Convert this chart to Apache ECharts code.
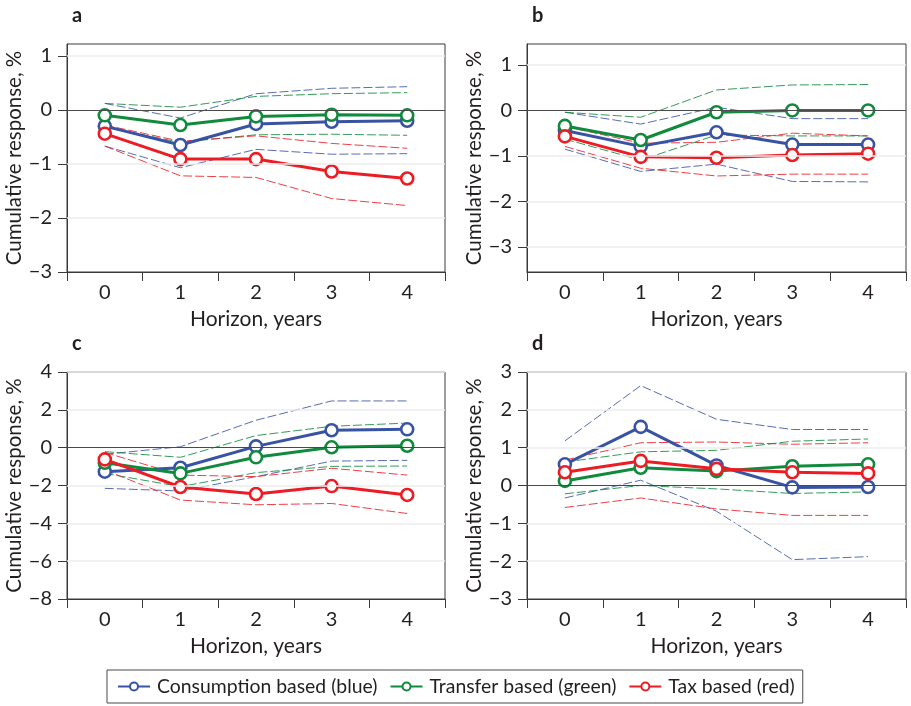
<!DOCTYPE html>
<html>
<head>
<meta charset="utf-8">
<script src="https://cdn.jsdelivr.net/npm/echarts@6/dist/echarts.min.js"></script>
<style>
  html, body { margin: 0; padding: 0; background: #fff; }
  #chart { width: 911px; height: 706px; }
</style>
</head>
<body>
<div id="chart"></div>
<script>
// Horizons (years) on the x axis
const horizons = ['0', '1', '2', '3', '4'];

// Series names
const seriesNames = ['Consumption based (blue)', 'Transfer based (green)', 'Tax based (red)'];

// Panel a: point estimates and confidence bands
const aConsumption = [-0.30, -0.65, -0.26, -0.22, -0.20];
const aConsumptionHi = [0.12, -0.15, 0.30, 0.40, 0.43];
const aConsumptionLo = [-0.67, -1.07, -0.73, -0.82, -0.81];
const aTransfer = [-0.10, -0.28, -0.12, -0.09, -0.10];
const aTransferHi = [0.12, 0.05, 0.25, 0.30, 0.32];
const aTransferLo = [-0.32, -0.60, -0.46, -0.45, -0.47];
const aTax = [-0.44, -0.91, -0.91, -1.14, -1.27];
const aTaxHi = [-0.28, -0.58, -0.48, -0.62, -0.71];
const aTaxLo = [-0.67, -1.22, -1.25, -1.64, -1.77];

// Panel b
const bConsumption = [-0.44, -0.79, -0.48, -0.75, -0.75];
const bConsumptionHi = [-0.04, -0.30, 0.07, -0.18, -0.18];
const bConsumptionLo = [-0.85, -1.34, -1.18, -1.56, -1.57];
const bTransfer = [-0.34, -0.65, -0.04, 0.00, 0.00];
const bTransferHi = [-0.04, -0.15, 0.45, 0.56, 0.57];
const bTransferLo = [-0.63, -1.09, -0.54, -0.56, -0.56];
const bTax = [-0.57, -1.02, -1.04, -0.98, -0.95];
const bTaxHi = [-0.35, -0.72, -0.70, -0.50, -0.56];
const bTaxLo = [-0.79, -1.27, -1.44, -1.40, -1.40];

// Panel c
const cConsumption = [-1.27, -1.06, 0.07, 0.92, 0.97];
const cConsumptionHi = [-0.35, 0.05, 1.45, 2.47, 2.47];
const cConsumptionLo = [-2.15, -2.29, -1.53, -0.71, -0.67];
const cTransfer = [-0.80, -1.36, -0.51, 0.02, 0.10];
const cTransferHi = [-0.21, -0.51, 0.64, 1.13, 1.30];
const cTransferLo = [-1.36, -2.06, -1.32, -0.99, -0.97];
const cTax = [-0.62, -2.08, -2.45, -2.03, -2.50];
const cTaxHi = [-0.25, -1.45, -1.53, -1.09, -1.45];
const cTaxLo = [-1.18, -2.77, -3.02, -2.95, -3.48];

// Panel d
const dConsumption = [0.56, 1.55, 0.53, -0.05, -0.04];
const dConsumptionHi = [1.18, 2.64, 1.75, 1.48, 1.48];
const dConsumptionLo = [-0.33, 0.14, -0.68, -1.96, -1.88];
const dTransfer = [0.12, 0.47, 0.38, 0.51, 0.56];
const dTransferHi = [0.62, 0.89, 0.93, 1.17, 1.23];
const dTransferLo = [-0.22, 0.00, -0.09, -0.21, -0.17];
const dTax = [0.35, 0.65, 0.44, 0.35, 0.32];
const dTaxHi = [0.67, 1.13, 1.15, 1.09, 1.13];
const dTaxLo = [-0.58, -0.33, -0.62, -0.79, -0.79];

// Y axis ticks per panel
const aTicks = [-3, -2, -1, 0, 1];
const bTicks = [-3, -2, -1, 0, 1];
const cTicks = [-8, -6, -4, -2, 0, 2, 4];
const dTicks = [-3, -2, -1, 0, 1, 2, 3];

const panelLetters = ['a', 'b', 'c', 'd'];

const COLORS = ['#3953a4', '#118a3d', '#ed1c24'];
const FONT = 'Lato';

const panels = [
  { ticks: aTicks, min: -3, max: 1.22,
    lines: [[aConsumption, aConsumptionHi, aConsumptionLo], [aTransfer, aTransferHi, aTransferLo], [aTax, aTaxHi, aTaxLo]] },
  { ticks: bTicks, min: -3.55, max: 1.46,
    lines: [[bConsumption, bConsumptionHi, bConsumptionLo], [bTransfer, bTransferHi, bTransferLo], [bTax, bTaxHi, bTaxLo]] },
  { ticks: cTicks, min: -8, max: 4,
    lines: [[cConsumption, cConsumptionHi, cConsumptionLo], [cTransfer, cTransferHi, cTransferLo], [cTax, cTaxHi, cTaxLo]] },
  { ticks: dTicks, min: -3, max: 3,
    lines: [[dConsumption, dConsumptionHi, dConsumptionLo], [dTransfer, dTransferHi, dTransferLo], [dTax, dTaxHi, dTaxLo]] }
];

const gridBoxes = [
  { left: 67, top: 44, width: 378, height: 228 },
  { left: 527, top: 44, width: 379, height: 228 },
  { left: 67, top: 372, width: 378, height: 227 },
  { left: 527, top: 372, width: 379, height: 227 }
];

const minus = v => String(v).replace('-', '\u2212');

const grids = [], xAxes = [], yAxes = [], series = [], titles = [];

panels.forEach((p, i) => {
  const g = gridBoxes[i];
  grids.push(Object.assign({ show: true, borderColor: '#3a3a3a', borderWidth: 1, backgroundColor: 'transparent' }, g));

  titles.push({
    text: panelLetters[i],
    left: g.left,
    top: g.top - 43,
    textStyle: { fontFamily: FONT, fontWeight: 'bold', fontSize: 20, color: '#231f20' }
  });

  xAxes.push({
    type: 'category',
    gridIndex: i,
    data: horizons,
    boundaryGap: true,
    name: 'Horizon, years',
    nameLocation: 'middle',
    nameGap: 37,
    nameTextStyle: { fontFamily: FONT, fontSize: 21, color: '#231f20' },
    axisLine: { onZero: false, lineStyle: { color: '#3a3a3a', width: 1 } },
    axisTick: { show: true, inside: false, length: 9, alignWithLabel: false, lineStyle: { color: '#3a3a3a' } },
    axisLabel: { fontFamily: FONT, fontSize: 20, color: '#231f20', margin: 11 },
    splitLine: { show: false }
  });

  yAxes.push({
    type: 'value',
    gridIndex: i,
    min: p.min,
    max: p.max,
    name: 'Cumulative response, %',
    nameLocation: 'middle',
    nameGap: 40,
    nameTextStyle: { fontFamily: FONT, fontSize: 20.5, color: '#231f20' },
    axisLine: { show: true, onZero: false, lineStyle: { color: '#3a3a3a', width: 1 } },
    axisTick: { show: true, length: 9, customValues: p.ticks, lineStyle: { color: '#3a3a3a' } },
    axisLabel: { fontFamily: FONT, fontSize: 20, color: '#231f20', margin: 15, customValues: p.ticks, formatter: minus },
    splitLine: { show: false }
  });

  // faint horizontal guides and the zero line
  series.push({
    type: 'line',
    xAxisIndex: i,
    yAxisIndex: i,
    data: [],
    silent: true,
    z: 1,
    markLine: {
      silent: true,
      symbol: ['none', 'none'],
      label: { show: false },
      animation: false,
      data: p.ticks.filter(t => t !== p.min).map(t => ({
        yAxis: t,
        lineStyle: t === 0
          ? { color: '#4a4a4a', width: 1.2, type: 'solid' }
          : { color: '#ececec', width: 1.5, type: 'solid' }
      }))
    }
  });

  p.lines.forEach((trio, k) => {
    const c = COLORS[k];
    // confidence bands
    [trio[1], trio[2]].forEach((band, b) => {
      series.push({
        type: 'line',
        name: seriesNames[k] + (b === 0 ? ' upper' : ' lower'),
        xAxisIndex: i,
        yAxisIndex: i,
        data: band,
        symbol: 'none',
        silent: true,
        z: 2,
        lineStyle: { color: c, width: 1, type: [9, 3], opacity: 0.85 }
      });
    });
  });

  p.lines.forEach((trio, k) => {
    const c = COLORS[k];
    series.push({
      type: 'line',
      name: seriesNames[k],
      xAxisIndex: i,
      yAxisIndex: i,
      data: trio[0],
      symbol: 'circle',
      symbolSize: 12,
      showAllSymbol: true,
      z: 3,
      lineStyle: { color: c, width: 3 },
      itemStyle: { color: '#ffffff', borderColor: c, borderWidth: 2.6 }
    });
  });
});

const chart = echarts.init(document.getElementById('chart'), null, { renderer: 'canvas' });
chart.setOption({
  animation: false,
  backgroundColor: '#ffffff',
  title: titles,
  grid: grids,
  xAxis: xAxes,
  yAxis: yAxes,
  legend: {
    data: seriesNames,
    left: 107,
    top: 670,
    orient: 'horizontal',
    itemWidth: 32,
    itemHeight: 10,
    itemGap: 12,
    padding: [7, 8, 7, 10],
    borderColor: '#4a4a4a',
    borderWidth: 1,
    selectedMode: false,
    textStyle: { fontFamily: FONT, fontSize: 19.4, color: '#231f20', padding: [0, 0, 0, 2] }
  },
  series: series
});
</script>
</body>
</html>
